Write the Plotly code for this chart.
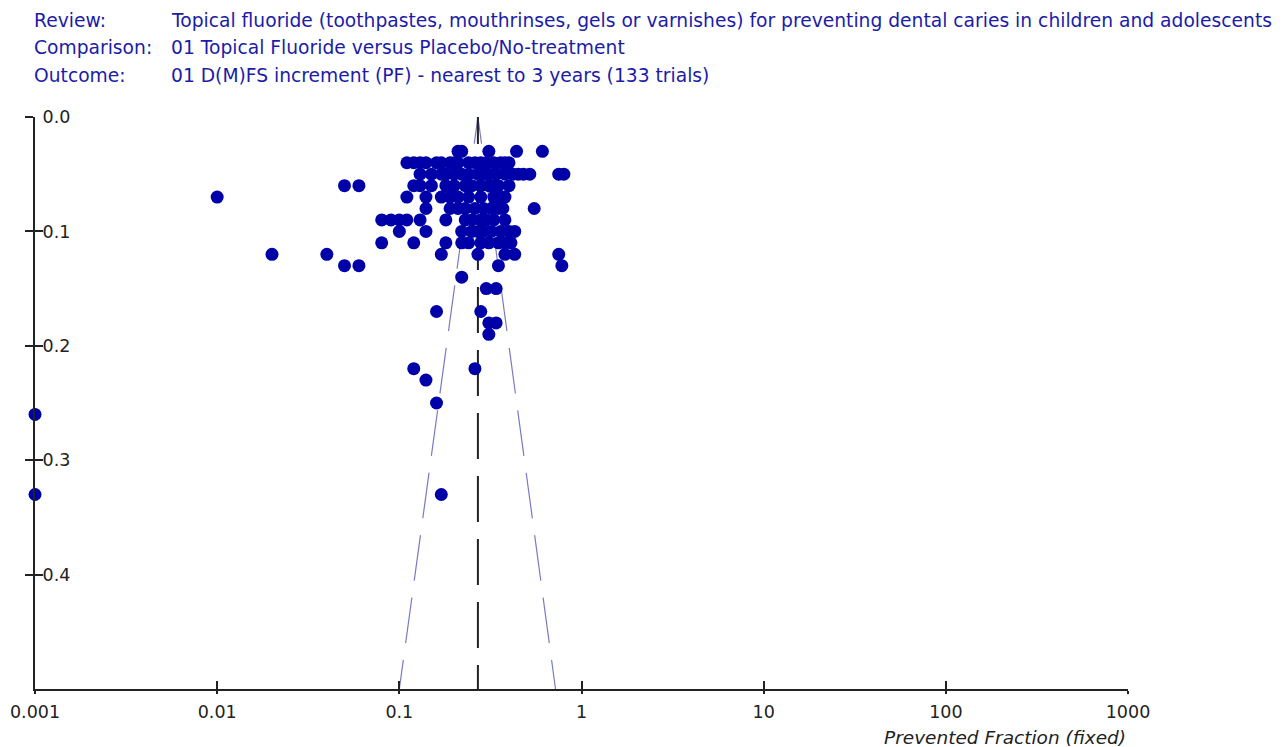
import plotly.graph_objects as go

# ---- data ----
# prevented fraction (x, log scale) and its standard error (y), one entry per trial
prevented_fraction = [
    0.21, 0.22, 0.31, 0.44, 0.61,                                                       # SE 0.03
    0.11, 0.12, 0.13, 0.14, 0.16, 0.17, 0.19, 0.20, 0.21, 0.24, 0.26, 0.28, 0.30, 0.33, 0.36, 0.38, 0.40,  # SE 0.04
    0.13, 0.15, 0.17, 0.18, 0.20, 0.22, 0.24, 0.27, 0.29, 0.31, 0.34, 0.38, 0.42, 0.45, 0.48, 0.52, 0.75, 0.80,  # SE 0.05
    0.05, 0.06, 0.12, 0.13, 0.15, 0.18, 0.20, 0.23, 0.25, 0.28, 0.31, 0.33, 0.35, 0.40,  # SE 0.06
    0.01, 0.11, 0.14, 0.17, 0.19, 0.21, 0.24, 0.28, 0.33, 0.36, 0.38,                   # SE 0.07
    0.14, 0.19, 0.21, 0.23, 0.26, 0.29, 0.32, 0.35, 0.37, 0.55,                         # SE 0.08
    0.08, 0.09, 0.10, 0.11, 0.13, 0.18, 0.23, 0.25, 0.28, 0.30, 0.33, 0.38,             # SE 0.09
    0.10, 0.14, 0.22, 0.25, 0.27, 0.29, 0.32, 0.36, 0.40, 0.43,                         # SE 0.10
    0.08, 0.12, 0.18, 0.22, 0.24, 0.28, 0.31, 0.35, 0.38, 0.41,                         # SE 0.11
    0.02, 0.04, 0.17, 0.27, 0.38, 0.43, 0.75,                                           # SE 0.12
    0.05, 0.06, 0.35, 0.78,                                                             # SE 0.13
    0.22,                                                                               # SE 0.14
    0.30, 0.34,                                                                         # SE 0.15
    0.16, 0.28,                                                                         # SE 0.17
    0.31, 0.34,                                                                         # SE 0.18
    0.31,                                                                               # SE 0.19
    0.12, 0.26,                                                                         # SE 0.22
    0.14,                                                                               # SE 0.23
    0.16,                                                                               # SE 0.25
    0.001,                                                                              # SE 0.26
    0.001, 0.17,                                                                        # SE 0.33
]
row_se = [0.03, 0.04, 0.05, 0.06, 0.07, 0.08, 0.09, 0.10, 0.11, 0.12, 0.13, 0.14,
          0.15, 0.17, 0.18, 0.19, 0.22, 0.23, 0.25, 0.26, 0.33]
row_counts = [5, 17, 18, 14, 11, 10, 12, 10, 10, 7, 4, 1, 2, 2, 2, 1, 2, 1, 1, 1, 2]
standard_error = [s for s, n in zip(row_se, row_counts) for _ in range(n)]

pooled_pf = 0.27                 # fixed-effect pooled estimate (dashed vertical line)
funnel_se = [0.0, 0.5]           # funnel limits drawn over the SE range
funnel_left = [0.27, 0.10]
funnel_right = [0.27, 0.72]

x_tickvals = [0.001, 0.01, 0.1, 1, 10, 100, 1000]
x_ticktext = ["0.001", "0.01", "0.1", "1", "10", "100", "1000"]
y_tickvals = [0.0, 0.1, 0.2, 0.3, 0.4]
y_ticktext = ["0.0", "0.1", "0.2", "0.3", "0.4"]

header_labels = ["Review:", "Comparison:", "Outcome:"]
header_values = [
    "Topical fluoride (toothpastes, mouthrinses, gels or varnishes) for preventing dental caries in children and adolescents",
    "01 Topical Fluoride versus Placebo/No-treatment",
    "01 D(M)FS increment (PF) - nearest to 3 years (133 trials)",
]

# ---- style ----
FONT = "DejaVu Sans"
HEAD_BLUE = "#1c1ca8"
MARK_BLUE = "#0000a8"
FUNNEL_BLUE = "#7a7ac4"
AXIS_COL = "#222222"
DASH = "27px,17px," + ",".join(["46px,17px"] * 10)

W, H = 1288, 747
L, R, T, B = 35, 160, 117, 58

fig = go.Figure()

fig.add_trace(go.Scatter(
    x=funnel_left, y=funnel_se, mode="lines",
    line=dict(color=FUNNEL_BLUE, width=1.2, dash=DASH), hoverinfo="skip", showlegend=False))
fig.add_trace(go.Scatter(
    x=funnel_right, y=funnel_se, mode="lines",
    line=dict(color=FUNNEL_BLUE, width=1.2, dash=DASH), hoverinfo="skip", showlegend=False))
fig.add_trace(go.Scatter(
    x=[pooled_pf, pooled_pf], y=funnel_se, mode="lines",
    line=dict(color=AXIS_COL, width=2, dash=DASH), hoverinfo="skip", showlegend=False))

fig.add_trace(go.Scatter(
    x=prevented_fraction, y=standard_error, mode="markers",
    marker=dict(color=MARK_BLUE, size=13, line=dict(width=0)),
    cliponaxis=False, showlegend=False))

# helper traces so the overlay axes (giving crossing tick marks) are drawn
fig.add_trace(go.Scatter(x=[None], y=[None], xaxis="x2", yaxis="y", showlegend=False, hoverinfo="skip"))
fig.add_trace(go.Scatter(x=[None], y=[None], xaxis="x", yaxis="y2", showlegend=False, hoverinfo="skip"))

tickfont = dict(family=FONT, size=17.5, color=AXIS_COL)

fig.update_layout(
    width=W, height=H,
    margin=dict(l=L, r=R, t=T, b=B, pad=0, autoexpand=False),
    paper_bgcolor="white", plot_bgcolor="white",
    showlegend=False,
    xaxis=dict(
        type="log", range=[-3, 3], tickvals=x_tickvals, ticktext=x_ticktext,
        showgrid=False, zeroline=False, showline=True, linecolor=AXIS_COL, linewidth=2,
        ticks="outside", ticklen=3, tickwidth=1.5, tickcolor=AXIS_COL,
        tickfont=tickfont, ticklabelstandoff=3, ticklabeloverflow="allow",
        automargin=False,
    ),
    xaxis2=dict(
        type="log", range=[-3, 3], tickvals=x_tickvals, overlaying="x", anchor="y",
        showgrid=False, zeroline=False, showline=False, showticklabels=False,
        ticks="inside", ticklen=8, tickwidth=1.5, tickcolor=AXIS_COL, automargin=False,
    ),
    yaxis=dict(
        range=[0.5, 0], tickvals=y_tickvals, ticktext=y_ticktext,
        showgrid=False, zeroline=False, showline=True, linecolor=AXIS_COL, linewidth=2,
        ticks="outside", ticklen=8, tickwidth=1.5, tickcolor=AXIS_COL,
        ticklabelposition="inside", tickfont=tickfont,
        ticklabelstandoff=8, ticklabeloverflow="allow", automargin=False,
    ),
    yaxis2=dict(
        range=[0.5, 0], tickvals=y_tickvals, overlaying="y", anchor="x",
        showgrid=False, zeroline=False, showline=False, showticklabels=False,
        ticks="inside", ticklen=8, tickwidth=1.5, tickcolor=AXIS_COL, automargin=False,
    ),
)

pw = W - L - R
ph = H - T - B
header_y = [20, 47, 75]
for lab, val, yp in zip(header_labels, header_values, header_y):
    ypaper = (H - B - yp) / ph
    fig.add_annotation(text=lab, xref="paper", yref="paper", x=-3 / pw, y=ypaper,
                       xanchor="left", yanchor="middle", showarrow=False,
                       font=dict(family=FONT, size=18.7, color=HEAD_BLUE))
    fig.add_annotation(text=val, xref="paper", yref="paper", x=(169 - L) / pw, y=ypaper,
                       xanchor="left", yanchor="middle", showarrow=False,
                       font=dict(family=FONT, size=18.7, color=HEAD_BLUE))

fig.add_annotation(text="<i>Prevented Fraction (fixed)</i>", xref="paper", yref="paper",
                   x=1, y=(H - B - 737) / ph, xanchor="right", yanchor="middle",
                   showarrow=False, font=dict(family=FONT, size=18.5, color=AXIS_COL))

fig.write_html("out.html")
